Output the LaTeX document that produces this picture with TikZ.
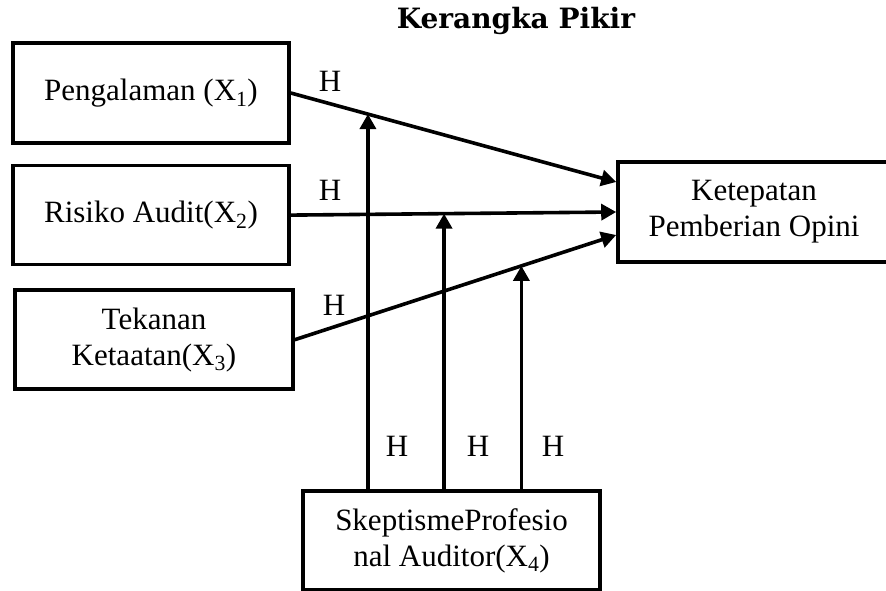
\documentclass[tikz,border=0pt]{standalone}
\usepackage{fontspec}
\setmainfont{Liberation Serif}
\newfontfamily\titlefont{DejaVu Serif}
\usetikzlibrary{arrows.meta, positioning}

\begin{document}
\begin{tikzpicture}[
    x=1pt, y=-1pt,
    node distance = 19pt,
    box/.style = {rectangle, draw, line width=3.6pt, align=center, inner sep=0pt, minimum width=276pt, minimum height=99pt, font=\fontsize{31}{36}\selectfont},
    hmark/.style = {inner sep=0pt, font=\fontsize{31}{36}\selectfont},
    arrow/.style = {-{Triangle[length=15pt, width=16pt]}, line width=3.6pt}
]
\useasboundingbox (0,0) rectangle (886,590);

% Define nodes
\node[anchor=base] (title) at (516,28) {\titlefont\fontsize{28}{32}\selectfont\bfseries Kerangka Pikir};
\node[box, minimum height=100pt] (peng) at (151,93) {Pengalaman (X\textsubscript{1})};
\node[box, below=of peng] (risk) {Risiko Audit(X\textsubscript{2})};
\node[box, below=22pt of risk, xshift=3pt, minimum width=278pt] (tek) {Tekanan\\Ketaatan(X\textsubscript{3})};
\node[box, minimum width=272pt, minimum height=100pt] (kep) at (754,212) {Ketepatan\\Pemberian Opini};
\node[box, minimum width=297pt] (skep) at (451.5,540.5) {SkeptismeProfesio\\nal Auditor(X\textsubscript{4})};

% Draw arrows
\draw[arrow] (peng.east) -- coordinate[pos=0.237] (c1) ([yshift=30pt]kep.west);
\draw[arrow] (risk.east) -- coordinate[pos=0.471] (c2) (kep.west);
\draw[arrow] (tek.east) -- coordinate[pos=0.705] (c3) ([yshift=-23pt]kep.west);
\draw[arrow] (skep.north -| c1) -- (c1);
\draw[arrow] (skep.north -| c2) -- (c2);
\draw[arrow] (skep.north -| c3) -- (c3);

% H labels
\node[hmark] (h1) at (330,81) {H};
\node[hmark] (h2) at (330,190) {H};
\node[hmark] (h3) at (334,305) {H};
\node[hmark] (h4) at (397,446) {H};
\node[hmark] (h5) at (478,446) {H};
\node[hmark] (h6) at (553,446) {H};

\end{tikzpicture}
\end{document}
